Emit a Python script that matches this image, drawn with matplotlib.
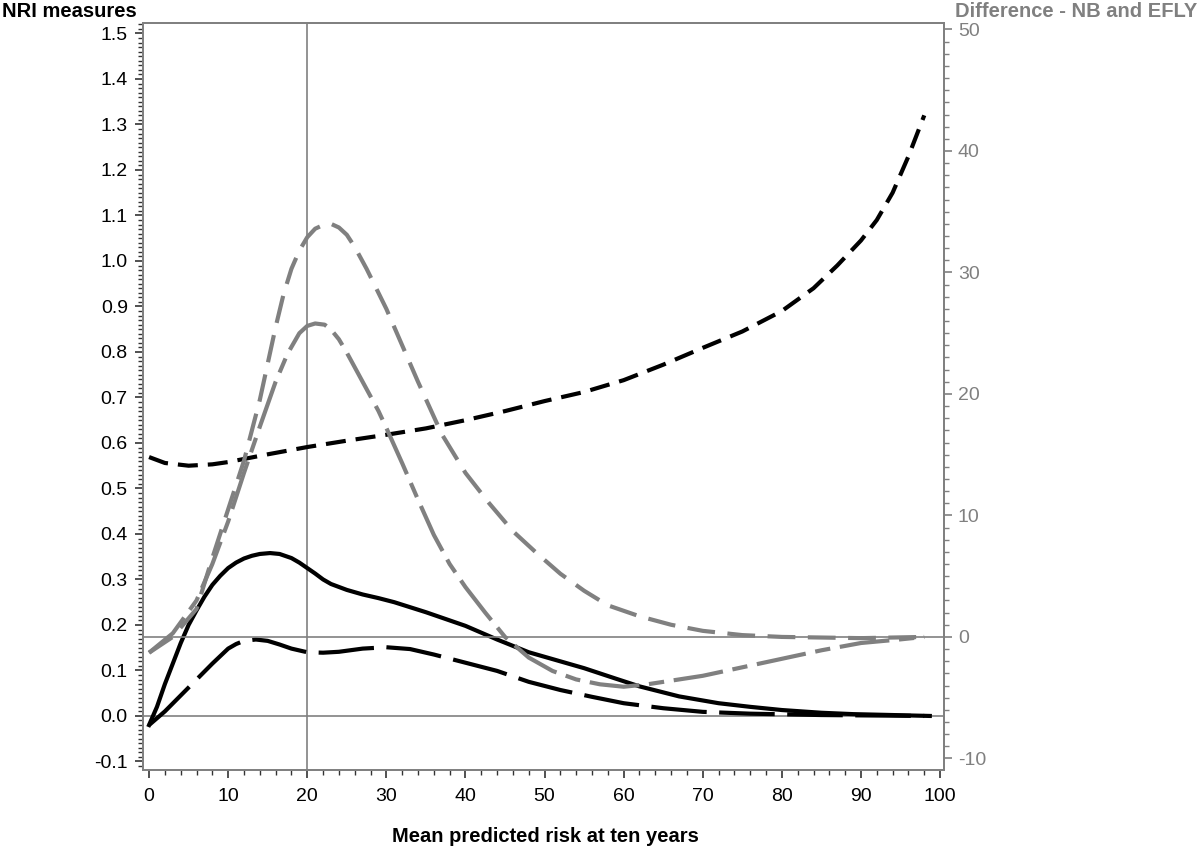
import numpy as np
import matplotlib
matplotlib.use("Agg")
import matplotlib.pyplot as plt
from matplotlib.ticker import MultipleLocator, FormatStrFormatter

plt.rcParams['font.family'] = ['Liberation Sans', 'DejaVu Sans']
plt.rcParams['lines.scale_dashes'] = False
plt.rcParams['axes.unicode_minus'] = False

# Черная штриховая (короткие штрихи), левая ось
a_x = [0, 2, 5, 8, 10, 15, 20, 25, 30, 35, 40, 45, 50, 55, 60, 65, 70, 75, 80, 84, 87, 90, 92,
       94, 96, 98]
a_y = [0.569, 0.556, 0.550, 0.553, 0.558, 0.575, 0.591, 0.605, 0.618, 0.632, 0.650, 0.670, 0.692,
       0.712, 0.738, 0.772, 0.809, 0.845, 0.890, 0.940, 0.99, 1.045, 1.09, 1.15, 1.23, 1.32]

# Черная сплошная, левая ось
b_x = [0, 1, 2, 3, 4, 5, 6, 7, 8, 9, 10, 11, 12, 13, 14, 15.3, 16.5, 18, 19, 20, 21, 22, 23, 25,
       27, 29, 31, 35, 40, 44, 48, 51, 55, 59, 62, 67, 72, 76, 80, 85, 89, 94, 98.7]
b_y = [-0.02, 0.02, 0.07, 0.115, 0.16, 0.20, 0.232, 0.262, 0.288, 0.308, 0.325, 0.337, 0.346,
       0.352, 0.356, 0.358, 0.356, 0.347, 0.337, 0.325, 0.313, 0.300, 0.290, 0.277, 0.267, 0.259,
       0.25, 0.228, 0.198, 0.168, 0.14, 0.125, 0.105, 0.082, 0.065, 0.043, 0.028, 0.02, 0.013,
       0.007, 0.004, 0.002, 0.0]

# Черная длинные штрихи, левая ось
c_x = [0, 2, 4, 6, 8, 10, 11, 12, 13.5, 15, 16.5, 18, 20, 22, 24, 27, 30, 33, 36, 40, 44, 48, 52,
       56, 60, 65, 70, 76, 85, 98]
c_y = [-0.02, 0.01, 0.045, 0.08, 0.115, 0.148, 0.158, 0.165, 0.168, 0.165, 0.157, 0.148, 0.14,
       0.139, 0.141, 0.148, 0.151, 0.147, 0.135, 0.117, 0.099, 0.075, 0.057, 0.042, 0.028, 0.017,
       0.009, 0.005, 0.002, 0.0]

# Серая (узкий пик), правая ось
d_x = [0, 3, 6, 8, 10, 12, 14, 16, 17.5, 19, 20, 21, 22.2, 23, 24, 25, 26, 27.5, 29, 30, 32, 34,
       36, 38, 40, 42.5, 45, 48, 51, 54, 57, 60, 63, 66, 70, 75, 80, 85, 90, 95, 98]
d_y = [-1.3, 0.3, 3.0, 6.0, 9.5, 13.5, 17.3, 21.0, 23.3, 25.0, 25.6, 25.8, 25.7, 25.3, 24.5, 23.4,
       22.2, 20.4, 18.6, 17.2, 14.3, 11.3, 8.4, 6.0, 4.1, 2.0, 0.0, -1.7, -2.8, -3.5, -3.9, -4.1,
       -3.9, -3.6, -3.2, -2.5, -1.8, -1.1, -0.5, -0.2, 0.0]

# Серая (широкий пик), правая ось
e_x = [0, 3, 6, 8, 10, 12, 14, 15, 16, 17, 18, 19, 20, 21, 22, 23, 24, 25, 26, 27.5, 30, 32, 34,
       37, 40, 43, 46, 49, 52, 55, 58, 62, 66, 70, 75, 80, 90, 98]
e_y = [-1.3, 0.0, 2.3, 6.5, 10.5, 14.5, 19.5, 22.5, 25.5, 28.2, 30.3, 31.8, 32.9, 33.6, 33.9, 34.0,
       33.7, 33.1, 32.1, 30.3, 27.0, 24.0, 21.0, 16.7, 13.5, 11.0, 8.7, 6.9, 5.2, 3.8, 2.6, 1.7,
       1.0, 0.5, 0.15, 0.0, -0.1, 0.0]

x_ticks = list(range(0, 101, 10))
left_ticks = [round(v * 0.1, 1) for v in range(-1, 16)]
right_ticks = [-10, 0, 10, 20, 30, 40, 50]

GRAY = '#808080'
LW = 3.0

fig = plt.figure(figsize=(12, 8.49), dpi=100)
ax = fig.add_axes([0.1192, 0.0931, 0.6675, 0.8802])
ax2 = ax.twinx()

ax.set_xlim(-0.76, 100.5)
ax.set_ylim(-0.1187, 1.5237)
ax2.set_ylim(-10.95, 50.56)

# Опорные линии
ax.axvline(20, color=GRAY, lw=1.2, zorder=1)
ax.axhline(0, color=GRAY, lw=1.2, zorder=1)
ax2.axhline(0, color=GRAY, lw=1.2, zorder=1)

ax.plot(a_x, a_y, color='black', lw=LW, dashes=(14.4, 7.2))
ax.plot(b_x, b_y, color='black', lw=LW)
ax.plot(c_x, c_y, color='black', lw=LW, dashes=(40, 9))
ax2.plot(d_x, d_y, color=GRAY, lw=LW, dashes=(36, 7, 11, 7))
ax2.plot(e_x, e_y, color=GRAY, lw=LW, dashes=(20, 9))

# Оси и деления
ax.set_xticks(x_ticks)
ax.xaxis.set_minor_locator(MultipleLocator(2))
ax.set_yticks(left_ticks)
ax.yaxis.set_minor_locator(MultipleLocator(0.01))
ax.yaxis.set_major_formatter(FormatStrFormatter('%.1f'))
ax2.set_yticks(right_ticks)
ax2.yaxis.set_minor_locator(MultipleLocator(1))

for s in ax.spines.values():
    s.set_color(GRAY)
    s.set_linewidth(1.3)
for s in ax2.spines.values():
    s.set_color(GRAY)
    s.set_linewidth(1.3)

ax.tick_params(axis='both', which='major', labelsize=14, length=6, width=1.2, color='#333333')
ax.tick_params(axis='both', which='minor', length=3.5, width=1.0, color='#333333')
ax.tick_params(axis='x', which='both', pad=7)
ax.tick_params(axis='y', which='both', pad=5)
ax2.tick_params(axis='y', which='major', labelsize=14, length=6, width=1.2, color=GRAY,
                labelcolor=GRAY, pad=4)
ax2.tick_params(axis='y', which='minor', length=3.5, width=1.0, color=GRAY)

# Подписи
fig.text(2 / 1200, 1 - 17 / 849, 'NRI measures', fontsize=14.5, fontweight='bold', va='baseline')
fig.text(955 / 1200, 1 - 17 / 849, 'Difference - NB and EFLY', fontsize=14.5, fontweight='bold',
         color=GRAY, va='baseline')
fig.text(545 / 1200, 1 - 842 / 849, 'Mean predicted risk at ten years', fontsize=14.5,
         fontweight='bold', ha='center', va='baseline')

fig.savefig('out.png', dpi=100)
